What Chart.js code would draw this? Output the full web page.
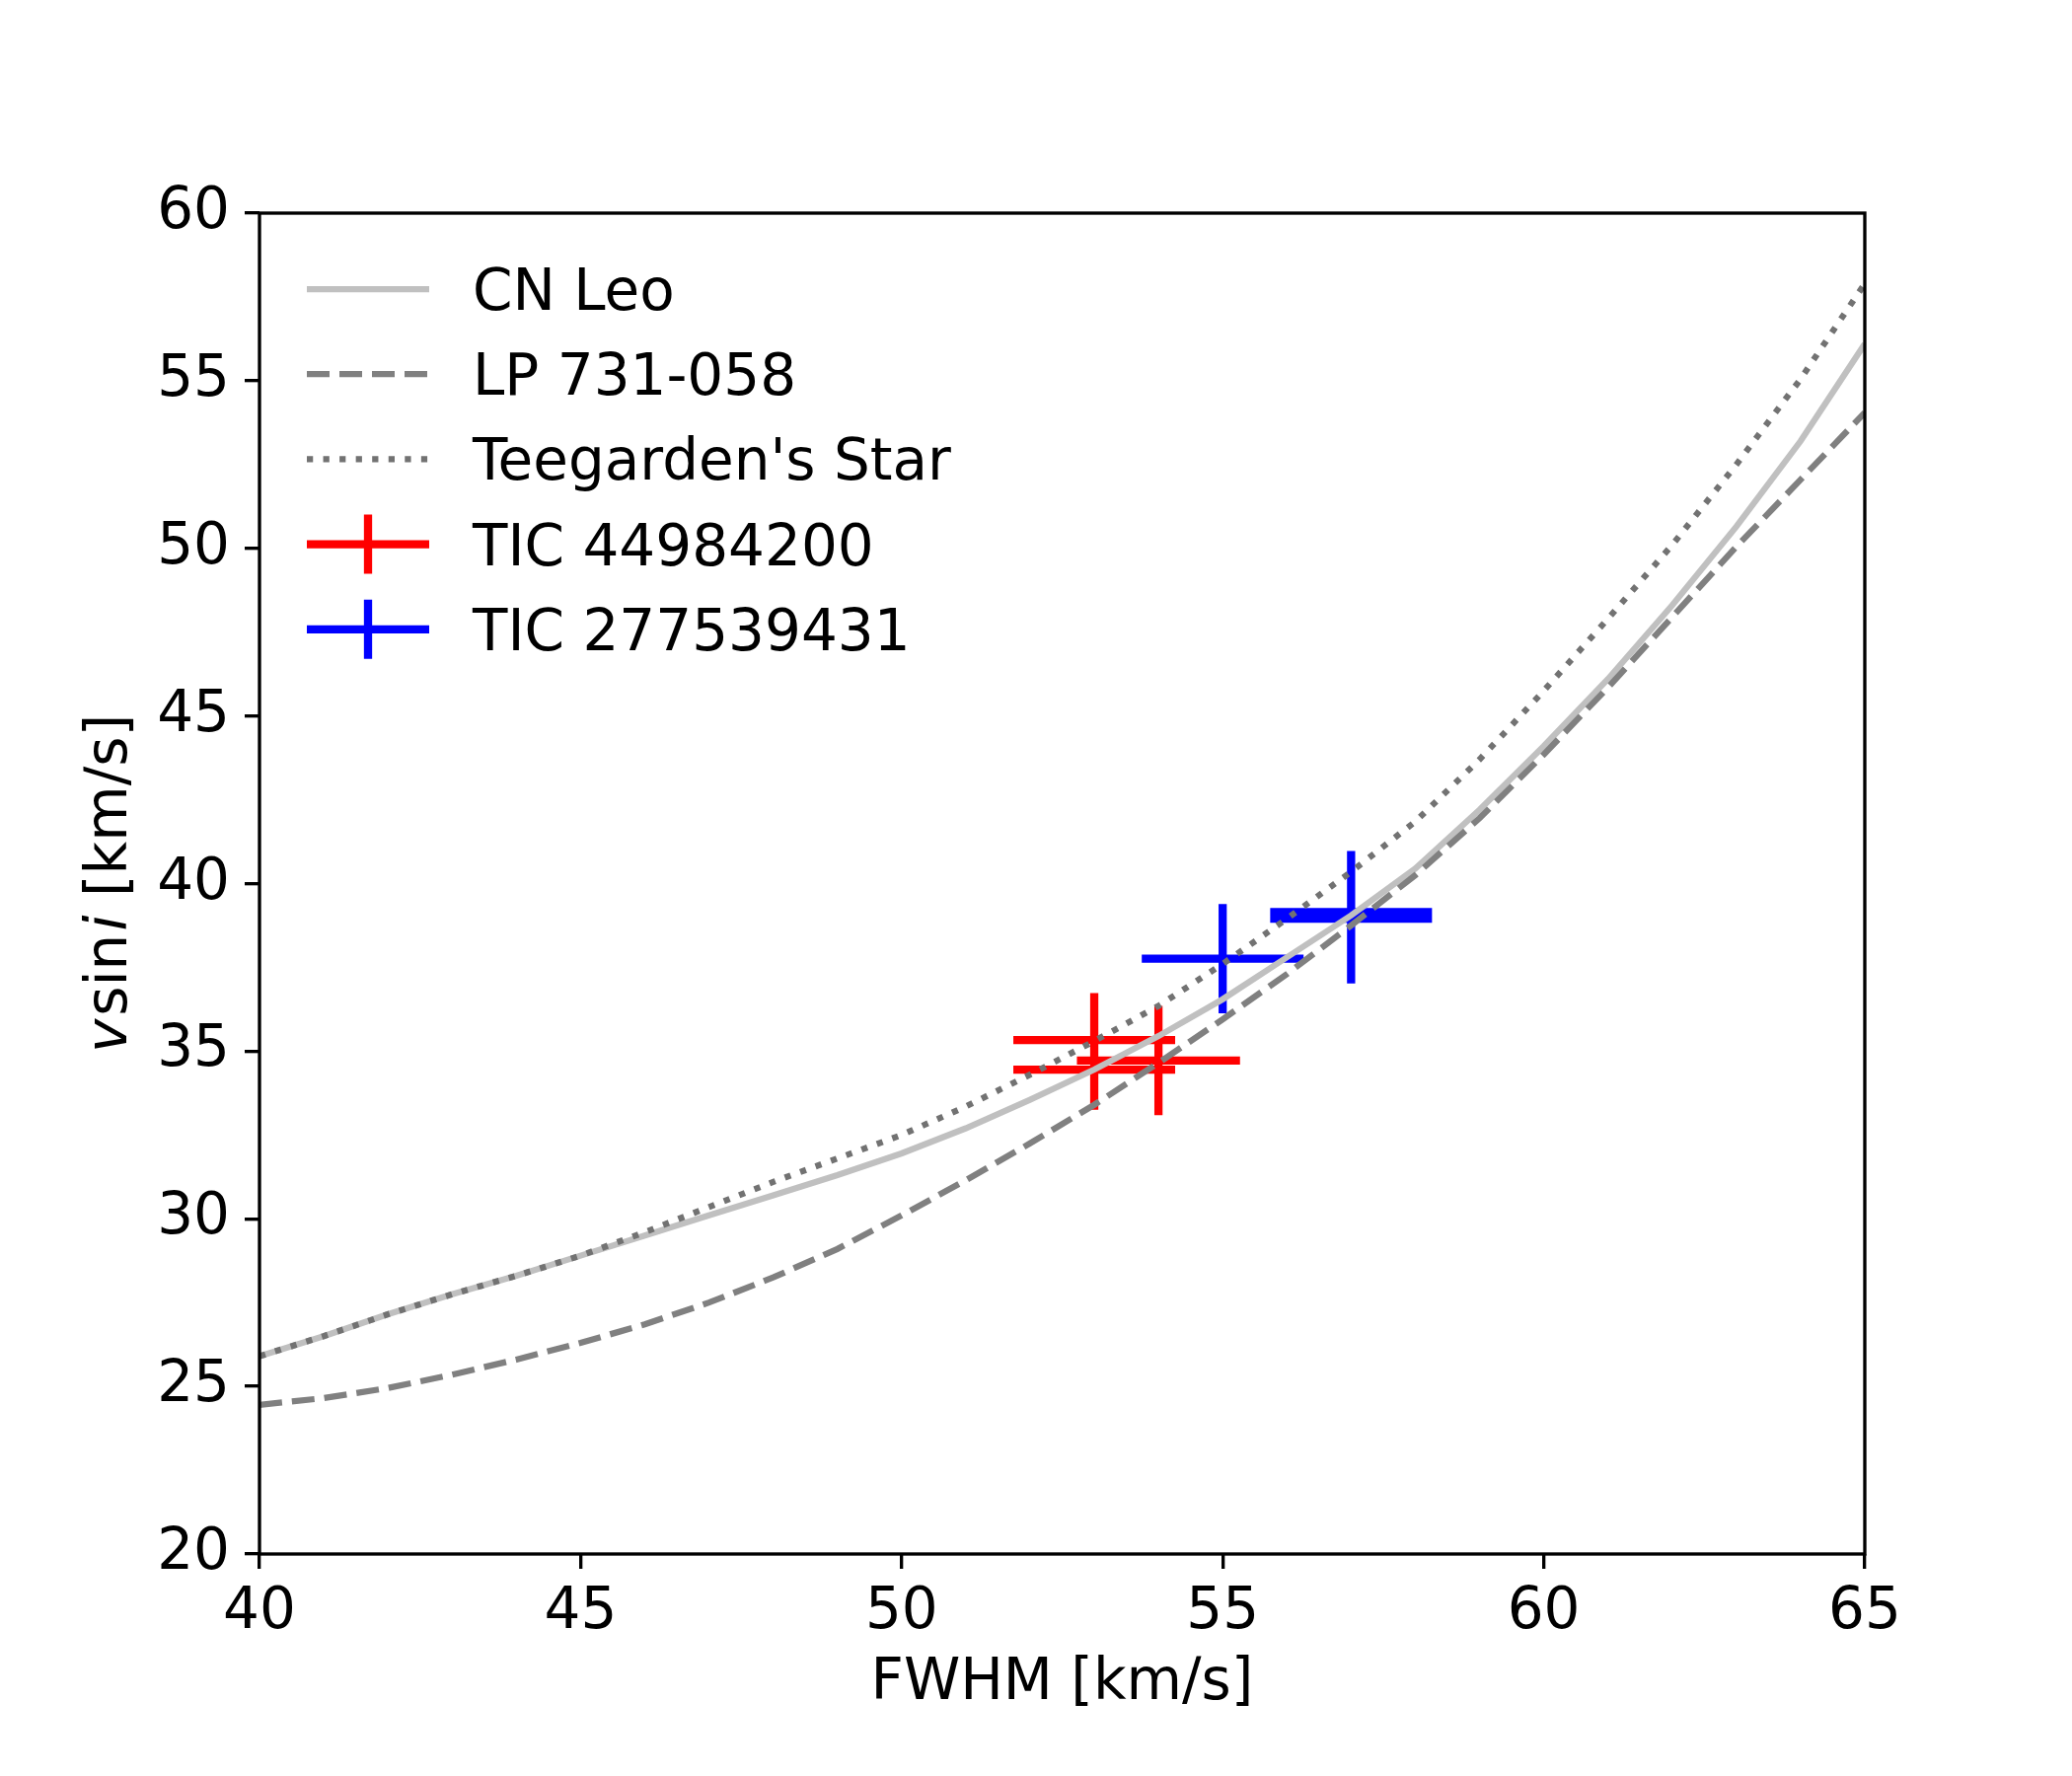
<!DOCTYPE html>
<html>
<head>
<meta charset="utf-8">
<script src="https://cdn.jsdelivr.net/npm/chart.js@4.4.1/dist/chart.umd.min.js"></script>
<style>
  html, body { margin: 0; padding: 0; background: #fff; }
  canvas { display: block; }
</style>
</head>
<body>
<canvas id="chart" width="2100" height="1800" style="width:2100px;height:1800px"></canvas>
<script>
// model curves, sampled on the FWHM grid
const fwhm = [40, 41, 42, 43, 44, 45, 46, 47, 48, 49, 50, 51, 52, 53, 54, 55, 56, 57, 58, 59, 60, 61, 62, 63, 64, 65];
const cnLeo = [25.9, 26.5, 27.15, 27.75, 28.3, 28.9, 29.5, 30.1, 30.7, 31.3, 31.95, 32.7, 33.55, 34.45, 35.45, 36.55,
  37.8, 39.05, 40.45, 42.2, 44.1, 46.1, 48.3, 50.65, 53.2, 56.1];
const lp731 = [24.45, 24.65, 24.95, 25.35, 25.8, 26.3, 26.85, 27.5, 28.25, 29.1, 30.1, 31.15, 32.25, 33.4, 34.65, 35.95,
  37.3, 38.75, 40.25, 41.95, 43.85, 45.85, 47.95, 50.05, 52.05, 54.05];
const teegarden = [25.9, 26.5, 27.15, 27.75, 28.3, 28.9, 29.6, 30.35, 31.1, 31.8, 32.5, 33.35, 34.3, 35.3, 36.35, 37.6,
  38.95, 40.35, 41.85, 43.7, 45.75, 47.9, 50.1, 52.5, 55.05, 57.9];

// measured stars
const tic449X = [53, 53, 54];
const tic449Y = [35.33, 34.45, 34.72];
const tic449XErr = [1.26, 1.26, 1.27];
const tic449YErr = [1.4, 1.2, 1.63];

const tic277X = [55, 57, 57];
const tic277Y = [37.76, 39.15, 38.95];
const tic277XErr = [1.26, 1.26, 1.26];
const tic277YErr = [1.63, 1.82, 1.93];

const xTicks = [40, 45, 50, 55, 60, 65];
const yTicks = [20, 25, 30, 35, 40, 45, 50, 55, 60];

const FONT = 'DejaVu Sans';
const LW = 6.25;   // 1.5pt at 300 dpi
const SPINE = 3.33;

function curve(xs, ys) {
  return xs.map((x, i) => ({ x: x, y: ys[i] }));
}

// each point becomes a horizontal and a vertical segment, split by gaps
function errorSegments(xs, ys, xe, ye) {
  const pts = [];
  xs.forEach((x, i) => {
    pts.push({ x: x - xe[i], y: ys[i] }, { x: x + xe[i], y: ys[i] }, { x: x, y: null });
    pts.push({ x: x, y: ys[i] - ye[i] }, { x: x, y: ys[i] + ye[i] }, { x: x, y: null });
  });
  return pts;
}

const datasets = [
  { label: 'CN Leo', data: curve(fwhm, cnLeo), borderColor: '#c0c0c0', borderWidth: LW, order: 2 },
  { label: 'LP 731-058', data: curve(fwhm, lp731), borderColor: '#808080', borderWidth: LW,
    borderDash: [23, 10], order: 1 },
  { label: "Teegarden's Star", data: curve(fwhm, teegarden), borderColor: '#727272', borderWidth: LW,
    borderDash: [6.25, 10.3], order: 0 },
  { label: 'TIC 44984200', data: errorSegments(tic449X, tic449Y, tic449XErr, tic449YErr),
    borderColor: '#ff0000', borderWidth: 8.3, errorbar: true, order: 3 },
  { label: 'TIC 277539431', data: errorSegments(tic277X, tic277Y, tic277XErr, tic277YErr),
    borderColor: '#0000ff', borderWidth: 8.3, errorbar: true, order: 4 }
];
datasets.forEach(d => {
  d.pointRadius = 0;
  d.pointHoverRadius = 0;
  d.tension = 0;
  d.fill = false;
  d.spanGaps = false;
  d.borderCapStyle = 'butt';
});

const framePlugin = {
  id: 'frame',
  afterDatasetsDraw(chart) {
    const { ctx, chartArea: a } = chart;
    ctx.save();
    ctx.strokeStyle = '#000';
    ctx.lineWidth = SPINE;
    ctx.strokeRect(a.left, a.top, a.right - a.left, a.bottom - a.top);
    ctx.restore();
  }
};

const legendPlugin = {
  id: 'mplLegend',
  afterDraw(chart) {
    const { ctx, chartArea: a } = chart;
    const x0 = a.left + 48, x1 = a.left + 172, tx = a.left + 216;
    ctx.save();
    chart.data.datasets.forEach((ds, i) => {
      const y = a.top + 77 + i * 86.2;
      ctx.strokeStyle = ds.borderColor;
      ctx.lineWidth = ds.borderWidth;
      ctx.lineCap = 'butt';
      ctx.setLineDash(ds.borderDash || []);
      ctx.beginPath();
      ctx.moveTo(x0, y);
      ctx.lineTo(x1, y);
      if (ds.errorbar) {
        const xm = (x0 + x1) / 2;
        ctx.moveTo(xm, y - 30);
        ctx.lineTo(xm, y + 30);
      }
      ctx.stroke();
      ctx.setLineDash([]);
      ctx.fillStyle = '#000';
      ctx.font = '58px "' + FONT + '"';
      ctx.textAlign = 'left';
      ctx.textBaseline = 'alphabetic';
      ctx.fillText(ds.label, tx, y + 21);
    });
    ctx.restore();
  }
};

const axisTitlePlugin = {
  id: 'axisTitles',
  afterDraw(chart) {
    const { ctx, chartArea: a } = chart;
    ctx.save();
    ctx.fillStyle = '#000';
    ctx.textBaseline = 'alphabetic';
    ctx.font = '58px "' + FONT + '"';
    ctx.textAlign = 'center';
    ctx.fillText('FWHM [km/s]', (a.left + a.right) / 2, a.bottom + 147);

    // y label: italic v and i, upright sin
    const parts = [
      { t: 'v', f: 'italic 58px "' + FONT + '"', gap: 3 },
      { t: 'sin', f: '58px "' + FONT + '"', gap: 3 },
      { t: 'i', f: 'italic 58px "' + FONT + '"', gap: 0 },
      { t: ' [km/s]', f: '58px "' + FONT + '"', gap: 0 }
    ];
    let total = 0;
    parts.forEach(p => { ctx.font = p.f; p.w = ctx.measureText(p.t).width; total += p.w + p.gap; });
    ctx.translate(a.left - 135, (a.top + a.bottom) / 2);
    ctx.rotate(-Math.PI / 2);
    ctx.textAlign = 'left';
    let cx = -total / 2;
    parts.forEach(p => { ctx.font = p.f; ctx.fillText(p.t, cx, 0); cx += p.w + p.gap; });
    ctx.restore();
  }
};

const tickFont = { family: FONT, size: 58 };

new Chart(document.getElementById('chart').getContext('2d'), {
  type: 'line',
  data: { datasets: datasets },
  options: {
    responsive: false,
    devicePixelRatio: 1,
    animation: false,
    events: [],
    layout: { padding: { left: 0, top: 216, right: 210, bottom: 0 } },
    plugins: {
      legend: { display: false },
      tooltip: { enabled: false },
      title: { display: false }
    },
    scales: {
      x: {
        type: 'linear',
        min: 40,
        max: 65,
        afterBuildTicks: s => { s.ticks = xTicks.map(v => ({ value: v })); },
        afterFit: s => { s.height = 225; },
        border: { display: false },
        grid: { drawOnChartArea: false, drawTicks: true, tickLength: 15, color: '#000', lineWidth: SPINE },
        ticks: { font: tickFont, color: '#000', padding: 10, maxRotation: 0, autoSkip: false }
      },
      y: {
        type: 'linear',
        min: 20,
        max: 60,
        afterBuildTicks: s => { s.ticks = yTicks.map(v => ({ value: v })); },
        afterFit: s => { s.width = 263; },
        border: { display: false },
        grid: { drawOnChartArea: false, drawTicks: true, tickLength: 15, color: '#000', lineWidth: SPINE },
        ticks: { font: tickFont, color: '#000', padding: 15, autoSkip: false }
      }
    }
  },
  plugins: [framePlugin, legendPlugin, axisTitlePlugin]
});
</script>
</body>
</html>
